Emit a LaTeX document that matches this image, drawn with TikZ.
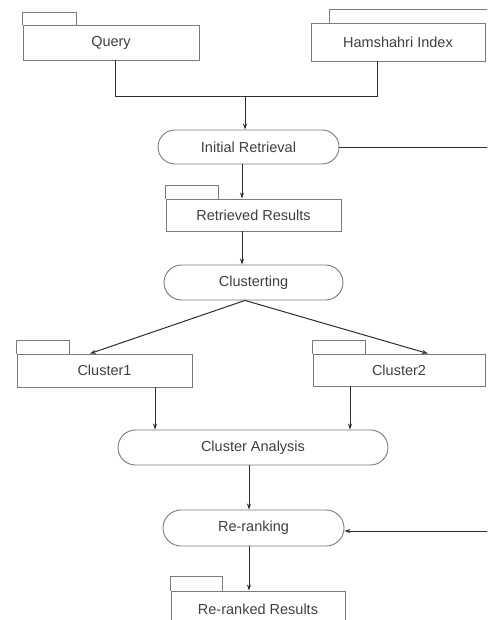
\documentclass[tikz,border=0pt]{standalone}
\usepackage{fontspec}
\setmainfont{Liberation Sans}
\usetikzlibrary{arrows.meta,shapes.misc}
\definecolor{boxgray}{HTML}{7A7A7A}
\definecolor{linegray}{HTML}{2E2E2E}
\definecolor{txtgray}{HTML}{404040}
\tikzset{
  folder/.style={draw=boxgray, line width=0.9pt, rectangle, inner sep=0pt, text=txtgray,
    font=\fontsize{14.5}{16}\selectfont},
  tabline/.style={draw=boxgray, line width=0.9pt},
  process/.style={draw=boxgray, line width=0.9pt, rounded rectangle, inner sep=0pt, text=txtgray,
    font=\fontsize{14.5}{16}\selectfont},
  conn/.style={draw=linegray, line width=1pt},
  arr/.style={conn, -{Stealth[length=6pt,width=4pt]}}
}
\begin{document}
\begin{tikzpicture}[x=1pt,y=-1pt]
\useasboundingbox (0,0) rectangle (487,620);
\fill[white] (0,0) rectangle (487,620);
\clip (0,0) rectangle (487,620);
% folder nodes
\node[folder, minimum width=176pt, minimum height=35pt] (q) at (111,42.5) {Query};
\node[folder, minimum width=174pt, minimum height=38pt] (h) at (398,42) {Hamshahri Index};
\node[folder, minimum width=175pt, minimum height=32pt] (rr) at (253.5,215) {Retrieved Results};
\node[folder, minimum width=175pt, minimum height=33pt] (c1) at (104.5,370.5) {Cluster1};
\node[folder, minimum width=172pt, minimum height=32pt] (c2) at (399,370) {Cluster2};
\node[folder, minimum width=174pt, minimum height=36pt] (rk) at (258,609) {Re-ranked Results};
% tabs
\draw[tabline] (q.north west) -- ++(0,-12) -- ++(54,0) -- ++(0,12);
\draw[tabline] ([xshift=19pt]h.north west) -- ++(0,-13) -- ++(170,0);
\draw[tabline] (rr.north west) -- ++(0,-13) -- ++(53,0) -- ++(0,13);
\draw[tabline] (c1.north west) -- ++(0,-13) -- ++(53,0) -- ++(0,13);
\draw[tabline] (c2.north west) -- ++(0,-13) -- ++(53,0) -- ++(0,13);
\draw[tabline] (rk.north west) -- ++(0,-14) -- ++(52,0) -- ++(0,14);
% process nodes
\node[process, minimum width=181pt, minimum height=34pt] (ir) at (248.5,147) {Initial Retrieval};
\node[process, minimum width=179pt, minimum height=35pt] (cl) at (253.5,282.5) {Clusterting};
\node[process, minimum width=270pt, minimum height=35pt] (ca) at (253,447.5) {Cluster Analysis};
\node[process, minimum width=181pt, minimum height=36pt] (rg) at (253.5,528) {Re-ranking};
% connector helpers
\coordinate (j) at (245,97);
\coordinate (irR) at (490,148);
\coordinate (rgR) at (490,531);
% connectors
\draw[conn] ([xshift=4pt]q.south) |- (j);
\draw[conn] ([xshift=-21pt]h.south) |- (j);
\draw[arr] (j) -- (j |- ir.north);
\draw[conn] (ir.east |- irR) -- (irR);
\draw[arr] ([xshift=-6.5pt]ir.south) -- ([xshift=-6.5pt]ir.south |- rr.north);
\draw[arr] ([xshift=-11.5pt]rr.south) -- ([xshift=-11.5pt]rr.south |- cl.north);
\draw[arr] ([xshift=-8.5pt]cl.south) -- ([xshift=-14.5pt]c1.north);
\draw[arr] ([xshift=-8.5pt]cl.south) -- ([xshift=29pt]c2.north);
\draw[arr] ([xshift=50.5pt]c1.south) -- ([xshift=50.5pt]c1.south |- ca.north);
\draw[arr] ([xshift=-49pt]c2.south) -- ([xshift=-49pt]c2.south |- ca.north);
\draw[arr] ([xshift=-4pt]ca.south) -- ([xshift=-4pt]ca.south |- rg.north);
\draw[arr] (rgR) -- (rg.east |- rgR);
\draw[arr] ([xshift=-4.5pt]rg.south) -- ([xshift=-4.5pt]rg.south |- rk.north);
\end{tikzpicture}
\end{document}
